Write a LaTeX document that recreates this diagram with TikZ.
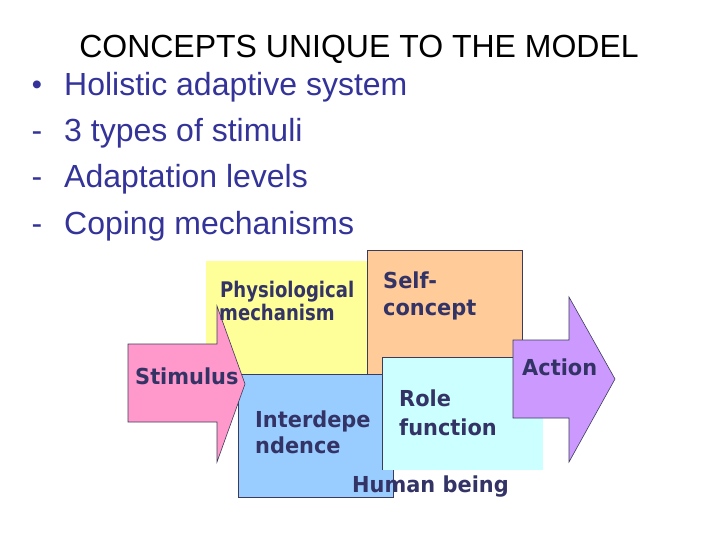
\documentclass[tikz,border=0pt]{standalone}
\usepackage{fontspec}
\setmainfont{Liberation Sans}
\newfontfamily\boxfont{DejaVu Sans}[FakeStretch=0.95]
\newfontfamily\physfont{DejaVu Sans}[FakeStretch=0.84]
\definecolor{listblue}{HTML}{333399}
\definecolor{boxtext}{HTML}{333366}
\definecolor{boxline}{HTML}{3C3C5A}
\definecolor{physyellow}{HTML}{FFFF99}
\definecolor{selforange}{HTML}{FFCC99}
\definecolor{rolecyan}{HTML}{CCFFFF}
\definecolor{interblue}{HTML}{99CCFF}
\definecolor{stimpink}{HTML}{FF99CC}
\definecolor{actpurple}{HTML}{CC99FF}
\begin{document}
\begin{tikzpicture}[x=1pt, y=-1pt,
    headline/.style={anchor=base, inner sep=0pt, font=\fontsize{32}{38}\selectfont},
    item/.style={anchor=base west, inner sep=0pt, text=listblue, font=\fontsize{32}{38}\selectfont},
    bulletmark/.style={anchor=base, inner sep=0pt, text=listblue, font=\fontsize{32}{38}\selectfont},
    lbl/.style={anchor=base west, inner sep=0pt, text=boxtext, font=\boxfont\bfseries\fontsize{22}{27}\selectfont},
    physlbl/.style={lbl, font=\physfont\bfseries\fontsize{21.5}{27}\selectfont},
    boxedge/.style={draw=boxline, line width=0.6pt}]
    \useasboundingbox (0,0) rectangle (720,540);

    % Tieu de va danh sach
    \node[headline] (head) at (359,58) {CONCEPTS UNIQUE TO THE MODEL};
    \node[bulletmark, font=\fontsize{29}{34}\selectfont] (m1) at (37,95) {•};
    \node[item] (t1) at (64,96) {Holistic adaptive system};
    \node[bulletmark] (m2) at (37,142) {-};
    \node[item] (t2) at (64,142) {3 types of stimuli};
    \node[bulletmark] (m3) at (37,188) {-};
    \node[item] (t3) at (64,188) {Adaptation levels};
    \node[bulletmark] (m4) at (37,234) {-};
    \node[item] (t4) at (64,234) {Coping mechanisms};

    % Cac khoi mau
    \fill[physyellow] (206,261) rectangle (372,375);
    \filldraw[fill=selforange, boxedge] (367,250) rectangle (522,381);
    \filldraw[fill=interblue, boxedge] (238,374) rectangle (393,497);
    \fill[rolecyan] (382,357) rectangle (543,470);
    \draw[boxedge] (382,470) -- (382,357) -- (543,357);

    % Mui ten vao va ra
    \filldraw[fill=stimpink, boxedge] (128,344) -- (217,344) -- (217,306) -- (245,384)
        -- (217,462) -- (217,422) -- (128,422) -- cycle;
    \filldraw[fill=actpurple, boxedge] (513,340) -- (569,340) -- (569,297) -- (615,379)
        -- (569,462) -- (569,418) -- (513,418) -- cycle;

    % Nhan
    \node[physlbl] (phys1) at (220,297) {Physiological};
    \node[physlbl] (phys2) at (219,320) {mechanism};
    \node[lbl] (self1) at (383,288) {Self-};
    \node[lbl] (self2) at (383,315) {concept};
    \node[lbl] (act) at (522,375) {Action};
    \node[lbl] (stim) at (135,384) {Stimulus};
    \node[lbl] (inter1) at (255,427) {Interdepe};
    \node[lbl] (inter2) at (255,453) {ndence};
    \node[lbl] (role1) at (399,406) {Role};
    \node[lbl] (role2) at (399,435) {function};
    \node[lbl] (human) at (352,492) {Human being};
\end{tikzpicture}
\end{document}
